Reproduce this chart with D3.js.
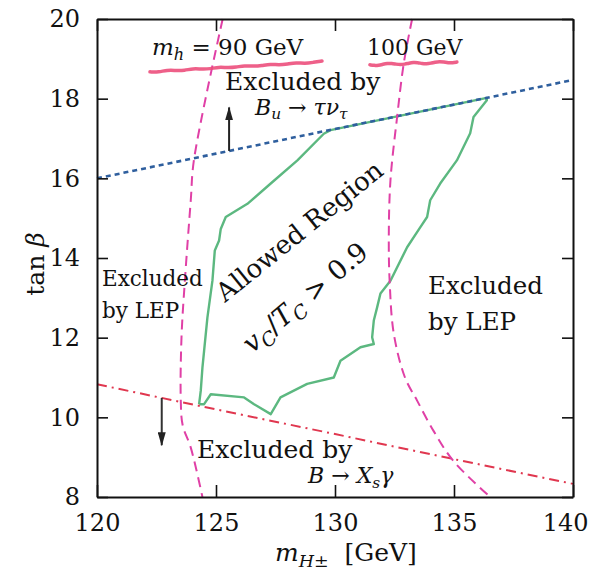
<!DOCTYPE html>
<html>
<head>
<meta charset="utf-8">
<script src="https://cdn.jsdelivr.net/npm/d3@7"></script>
<style>
  body { margin: 0; background: #fff; }
  text { font-family: "DejaVu Serif", "Liberation Serif", serif; fill: #111; white-space: pre; }
</style>
</head>
<body>
<svg id="chart" width="594" height="571"></svg>
<script>
// tan(beta) vs m_H+- : values
const xTicks = [120, 125, 130, 135, 140];
const yTicks = [8, 10, 12, 14, 16, 18, 20];

// B_u -> tau nu bound (blue dotted)
const buMass = [120, 125, 130, 135, 140];
const buTan  = [16.0, 16.62, 17.24, 17.85, 18.47];

// B -> X_s gamma bound (red dash-dot)
const bsgMass = [120, 125, 130, 135, 140];
const bsgTan  = [10.83, 10.2, 9.58, 8.95, 8.33];

// m_h = 90 GeV contour (magenta dashed)
const mh90Mass = [125.28, 124.07, 123.94, 123.7, 123.55, 123.52, 123.6, 123.94, 124.43];
const mh90Tan  = [20, 16.45, 15.45, 13.5, 12.0, 10.42, 9.8, 9.24, 8.0];

// m_h = 100 GeV contour (magenta dashed)
const mh100Mass = [133.24, 132.89, 132.61, 132.33, 132.26, 132.3, 132.47, 132.94, 133.45, 134.14, 134.98, 136.52];
const mh100Tan  = [20, 18.89, 17.54, 15.95, 14.5, 13.36, 12.1, 11.0, 10.42, 9.66, 8.9, 8.0];

// allowed region v_C/T_C > 0.9 (green outline)
const allowMass = [124.29, 124.36, 124.43, 124.5, 124.64, 124.85, 124.95, 125.13, 125.2, 125.41, 126.32, 127.3,
  128.42, 129.53, 129.81, 136.38, 136.38, 135.82, 135.68, 135.12, 134.42, 134.0, 133.87, 133.58, 133.03,
  132.33, 131.91, 131.77, 131.63, 131.56, 131.63, 131.07, 130.23, 129.95, 128.83, 127.71, 127.3, 126.6,
  126.18, 124.78, 124.5];
const allowTan = [10.33, 10.67, 11.25, 11.67, 12.51, 13.43, 14.19, 14.44, 14.73, 15.03, 15.36, 15.87,
  16.45, 17.12, 17.21, 18.02, 17.96, 17.54, 17.13, 16.45, 15.87, 15.45, 15.03, 14.77, 14.27,
  13.43, 13.11, 12.76, 12.43, 12.01, 11.84, 11.76, 11.42, 11.0, 10.84, 10.5, 10.08, 10.33,
  10.5, 10.58, 10.33];

const margin = {top: 19, right: 21, bottom: 74, left: 97};
const W = 594, H = 571;
const svg = d3.select("#chart");

const x = d3.scaleLinear().domain([120, 140]).range([margin.left, W - margin.right]);
const y = d3.scaleLinear().domain([8, 20]).range([H - margin.bottom, margin.top]);

const zip = (a, b) => a.map((v, i) => [v, b[i]]);
const line = d3.line().x(d => x(d[0])).y(d => y(d[1]));

// text with italic / subscript pieces
function mtext(px, py, size, parts, rot) {
  const t = svg.append("text")
    .attr("transform", `translate(${px},${py}) rotate(${rot || 0})`)
    .attr("font-size", size);
  let shift = 0;
  parts.forEach(([s, k]) => {
    const sp = t.append("tspan").text(s);
    const sub = k.includes("b"), sup = k.includes("p");
    const target = sub ? size * 0.22 : sup ? -size * 0.38 : 0;
    sp.attr("dy", target - shift);
    shift = target;
    if (sub || sup) sp.attr("font-size", size * 0.7);
    if (k.includes("i")) sp.attr("font-style", "italic");
  });
  return t;
}

// curves
svg.append("path").datum(zip(allowMass, allowTan).concat([[allowMass[0], allowTan[0]]]))
  .attr("d", line).attr("fill", "none").attr("stroke", "#5cb880").attr("stroke-width", 2.4)
  .attr("stroke-linejoin", "round");

svg.append("path").datum(zip(buMass, buTan))
  .attr("d", line).attr("fill", "none").attr("stroke", "#2f5f9e").attr("stroke-width", 2.6)
  .attr("stroke-dasharray", "5,4");

svg.append("path").datum(zip(bsgMass, bsgTan))
  .attr("d", line).attr("fill", "none").attr("stroke", "#e0374f").attr("stroke-width", 2)
  .attr("stroke-dasharray", "10,5,2,5");

const smooth = d3.line().x(d => x(d[0])).y(d => y(d[1])).curve(d3.curveCatmullRom);
[zip(mh90Mass, mh90Tan), zip(mh100Mass, mh100Tan)].forEach(c => {
  svg.append("path").datum(c)
    .attr("d", smooth).attr("fill", "none").attr("stroke", "#e040a6").attr("stroke-width", 2)
    .attr("stroke-dasharray", "10,6");
});

// arrows
svg.append("defs").append("marker").attr("id", "ah")
  .attr("viewBox", "0 0 14 8").attr("refX", 13).attr("refY", 4)
  .attr("markerWidth", 7).attr("markerHeight", 4).attr("orient", "auto")
  .append("path").attr("d", "M0,0 L14,4 L0,8 z").attr("fill", "#222");

const upX = 125.55;
svg.append("line").attr("x1", x(upX)).attr("x2", x(upX))
  .attr("y1", y(d3.scaleLinear().domain(buMass).range(buTan)(upX))).attr("y2", y(17.78))
  .attr("stroke", "#222").attr("stroke-width", 2).attr("marker-end", "url(#ah)");

const dnX = 122.72;
svg.append("line").attr("x1", x(dnX)).attr("x2", x(dnX))
  .attr("y1", y(d3.scaleLinear().domain(bsgMass).range(bsgTan)(dnX))).attr("y2", y(9.3))
  .attr("stroke", "#333").attr("stroke-width", 2).attr("marker-end", "url(#ah)");

// axes
const gx = svg.append("g").attr("transform", `translate(0,${y(8)})`);
gx.call(d3.axisBottom(x).tickValues(d3.range(121, 140)).tickSizeInner(-6).tickSizeOuter(0).tickFormat(""));
gx.call(d3.axisBottom(x).tickValues(xTicks).tickSizeInner(-12).tickSizeOuter(0).tickPadding(17).tickFormat(d3.format("d")));

const gt = svg.append("g").attr("transform", `translate(0,${y(20)})`);
gt.call(d3.axisTop(x).tickValues(d3.range(121, 140)).tickSizeInner(-6).tickSizeOuter(0).tickFormat(""));
gt.call(d3.axisTop(x).tickValues(xTicks).tickSizeInner(-12).tickSizeOuter(0).tickFormat(""));

const gy = svg.append("g").attr("transform", `translate(${x(120)},0)`);
gy.call(d3.axisLeft(y).tickValues(yTicks).tickSizeInner(-11).tickSizeOuter(0).tickPadding(17).tickFormat(d3.format("d")));

const gr = svg.append("g").attr("transform", `translate(${x(140)},0)`);
gr.call(d3.axisRight(y).tickValues(yTicks).tickSizeInner(-11).tickSizeOuter(0).tickFormat(""));

svg.selectAll(".domain").attr("stroke", "#111").attr("stroke-width", 2);
svg.selectAll(".tick line").attr("stroke", "#111").attr("stroke-width", 1.6);
svg.selectAll(".tick text").attr("font-size", 24).attr("fill", "#111")
  .attr("font-family", "'Liberation Serif', 'DejaVu Serif', serif");
// keep the last x label inside the page
gx.selectAll(".tick text").filter(d => d === 140).attr("text-anchor", "end").attr("x", 15);

// axis titles
mtext(44, 264, 25, [["tan ", ""], ["β", "i"]], -90).attr("text-anchor", "middle");
mtext(275, 561, 25, [["m", "i"], ["H", "ib"], ["±", "b"], ["  [GeV]", ""]]);

// top labels with pink hand underline
mtext(x(122.31), y(19.1), 23, [["m", "i"], ["h", "ib"], [" = 90 GeV", ""]]);
mtext(x(131.34), y(19.1), 22, [["100 GeV", ""]]);
[[x(122.31) - 2, 172, 17, 7], [x(131.34) + 3, 87, 10, 7]].forEach(([left, w, dl, dr]) => {
  const base = y(19.1);
  const pts = d3.range(0, 1.0001, 0.05).map(f => [left + f * w,
    base + dl + (dr - dl) * f + 0.9 * Math.sin(f * w / 4)]);
  svg.append("path").datum(pts).attr("d", d3.line().curve(d3.curveBasis))
    .attr("fill", "none").attr("stroke", "#ec4f7c").attr("stroke-width", 3.5)
    .attr("stroke-linecap", "round").attr("opacity", 0.9);
});

// region labels
mtext(x(125.38), y(18.22), 25, [["Excluded by", ""]]);
mtext(x(126.64), y(17.6), 22, [["B", "i"], ["u", "ib"], [" → ", ""], ["τν", "i"], ["τ", "ib"]]);

mtext(x(120.21), y(13.3), 21.5, [["Excluded", ""]]);
mtext(x(120.21), y(12.49), 21.5, [["by LEP", ""]]);

mtext(x(133.91), y(13.1), 24.5, [["Excluded", ""]]);
mtext(x(133.91), y(12.19), 24.5, [["by LEP", ""]]);

mtext(x(124.2), y(8.98), 25, [["Excluded by", ""]]);
mtext(x(128.87), y(8.35), 22, [["B", "i"], [" → ", ""], ["X", "i"], ["s", "ib"], ["γ", "i"]]);

mtext(x(125.38), y(12.87), 26, [["Allowed Region", ""]], -39);
mtext(x(126.51), y(11.59), 27, [["v", "i"], ["C", "ib"], ["/", ""], ["T", "i"], ["C", "ib"], [" > 0.9", ""]], -40);
</script>
</body>
</html>
